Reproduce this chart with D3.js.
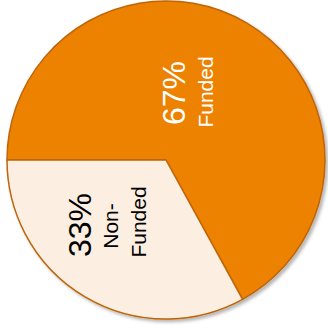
<!DOCTYPE html>
<html>
<head>
<meta charset="utf-8">
<script src="https://cdn.jsdelivr.net/npm/d3@7"></script>
<style>
  html, body { margin: 0; padding: 0; background: #fff; }
  svg { display: block; }
</style>
</head>
<body>
<svg id="chart" width="328" height="328"></svg>
<script>
// Share of funded vs non-funded
const categories = ["Funded", "Non-Funded"];
const values = [67, 33];
const percentLabels = ["67%", "33%"];
const nameLines = [["Funded"], ["Non-", "Funded"]];
const fills = ["#EC8206", "#FDEEE2"];
const textColors = ["#ffffff", "#000000"];

const width = 328, height = 328;
const cx = 166, cy = 160, radius = 159;

// label anchor offsets (percent block / name block)
const labelLayout = [
  { pct: [174, 93], name: [[205, 92]] },
  { pct: [80, 225], name: [[110, 226], [138, 222]] }
];

const svg = d3.select("#chart");

const defs = svg.append("defs");
const shadow = defs.append("filter")
  .attr("id", "pieShadow")
  .attr("x", "-10%").attr("y", "-10%")
  .attr("width", "120%").attr("height", "120%");
shadow.append("feDropShadow")
  .attr("dx", 2.5).attr("dy", 2.5)
  .attr("stdDeviation", 1.6)
  .attr("flood-color", "#000")
  .attr("flood-opacity", 0.28);

const pie = d3.pie()
  .sort(null)
  .value(d => d)
  .startAngle(-Math.PI / 2)
  .endAngle(3 * Math.PI / 2);

const arc = d3.arc().innerRadius(0).outerRadius(radius);

const g = svg.append("g").attr("transform", `translate(${cx},${cy})`);

g.append("g")
  .attr("filter", "url(#pieShadow)")
  .selectAll("path")
  .data(pie(values))
  .join("path")
  .attr("d", arc)
  .attr("fill", (d, i) => fills[i])
  .attr("stroke", "#BF6408")
  .attr("stroke-width", 1.5)
  .attr("stroke-linejoin", "round");

const font = "'Liberation Sans', Arial, sans-serif";

categories.forEach((c, i) => {
  const lay = labelLayout[i];
  svg.append("text")
    .attr("transform", `translate(${lay.pct[0]},${lay.pct[1]}) rotate(-90)`)
    .attr("text-anchor", "middle")
    .attr("dominant-baseline", "central")
    .attr("font-family", font)
    .attr("font-size", 32)
    .attr("fill", textColors[i])
    .text(percentLabels[i]);
  nameLines[i].forEach((line, j) => {
    svg.append("text")
      .attr("transform", `translate(${lay.name[j][0]},${lay.name[j][1]}) rotate(-90)`)
      .attr("text-anchor", "middle")
      .attr("dominant-baseline", "central")
      .attr("font-family", font)
      .attr("font-size", 21)
      .attr("fill", textColors[i])
      .text(line);
  });
});
</script>
</body>
</html>
